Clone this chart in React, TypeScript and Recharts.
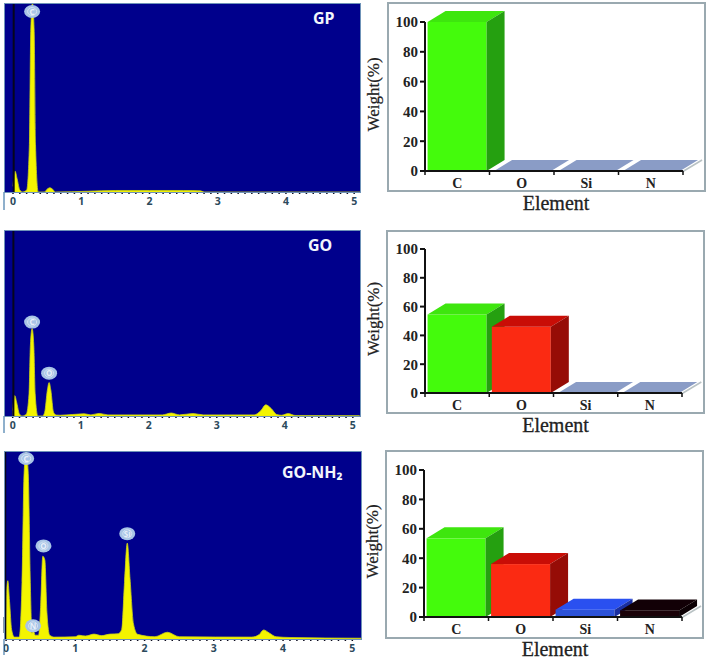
import { Area, AreaChart, Bar, BarChart, CartesianGrid, ReferenceDot, ReferenceLine, XAxis, YAxis } from 'recharts';

// EDS spectra, counts as % of plot height
const gpEnergy = [0, 0.01, 0.03, 0.06, 0.1, 0.14, 0.2, 0.24, 0.26, 0.285, 0.31, 0.33, 0.37, 0.46, 0.5, 0.54, 0.58, 0.62, 1.1, 1.5, 2, 2.5, 2.75, 2.8, 5.1];
const gpCounts = [3, 7, 11, 7, 1, 0, 1, 25, 85, 100, 85, 25, 0, 0, 1.5, 2.2, 1.5, 0, 0.4, 0.8, 0.8, 0.8, 0.6, 0, 0];

const goEnergy = [0, 0.01, 0.03, 0.06, 0.1, 0.14, 0.2, 0.24, 0.26, 0.285, 0.31, 0.33, 0.37, 0.44, 0.47, 0.51, 0.535, 0.56, 0.6, 0.64, 0.7, 1.05, 1.15, 1.27, 1.4, 2.2, 2.33, 2.45, 2.65, 2.8, 3.55, 3.65, 3.72, 3.8, 3.88, 3.95, 4.05, 4.15, 5.1];
const goCounts = [3, 7, 11, 7, 1, 0, 1, 12, 38, 47, 38, 12, 0, 0, 2, 14, 18, 14, 2, 0.5, 0.4, 1.2, 0.6, 1.4, 0.6, 0.6, 1.6, 0.6, 1.3, 0.6, 0.6, 3, 6, 4, 0.8, 0.4, 1.3, 0.3, 0.2];

const amineEnergy = [0, 0.012, 0.025, 0.05, 0.08, 0.12, 0.19, 0.23, 0.26, 0.29, 0.32, 0.35, 0.375, 0.39, 0.42, 0.47, 0.5, 0.53, 0.56, 0.59, 0.63, 0.7, 1, 1.05, 1.15, 1.27, 1.38, 1.5, 1.62, 1.67, 1.71, 1.75, 1.79, 1.84, 1.9, 2.15, 2.33, 2.5, 3.55, 3.65, 3.72, 3.8, 3.9, 4.1, 5.14];
const amineCounts = [10, 28, 31, 20, 5, 1, 1, 30, 88, 100, 88, 30, 3, 5, 2, 2, 18, 44, 42, 14, 2, 1, 1.2, 2, 1.6, 2.6, 1.8, 2.6, 2.8, 5, 30, 51, 32, 8, 2.5, 1.2, 3.6, 1.2, 1, 2.2, 4.8, 3.2, 1.2, 0.8, 0.4];

const energyTicks = Array.from({ length: 51 }, (_, i) => i / 10);

// Weight percentages
const elements = ['C', 'O', 'Si', 'N'];
const gpWeights = [100, 0, 0, 0];
const goWeights = [54.5, 46, 0, 0];
const amineWeights = [53.5, 36, 5, 4.5];
const weightTicks = [0, 20, 40, 60, 80, 100];

const FACE_COLORS: Record<string, string[]> = {
    C: ['#44fb0c', '#3ee60e', '#25a010'],
    O: ['#fb2a12', '#c90d06', '#960c06'],
    Si: ['#2c52d8', '#2a50f0', '#1a2fa0'],
    N: ['#1a0208', '#120006', '#0c0004'],
};
const SLAB = '#8a9cc6';
const DEPTH_X = 18;
const DEPTH_Y = 11;
const SERIF = '"Liberation Serif", serif';

function Box3D(props: any) {
    const { x, y, width, height, payload, index } = props;
    const [front, top, side] = FACE_COLORS[payload.name];
    const right = x + width;
    const bottom = y + height;
    const floorEdge = index === elements.length - 1 && (
        <line x1={right + 2} y1={bottom + 1} x2={right + DEPTH_X + 4} y2={bottom - DEPTH_Y} stroke="#b9c2c4" strokeWidth={1.5} />
    );
    if (payload.value === 0) {
        return (
            <g>
                {floorEdge}
                <polygon points={`${x + 2},${bottom} ${right},${bottom} ${right + DEPTH_X},${bottom - DEPTH_Y} ${x + 2 + DEPTH_X},${bottom - DEPTH_Y}`} fill={SLAB} />
            </g>
        );
    }
    return (
        <g>
            {floorEdge}
            <rect x={x} y={y} width={width} height={height} fill={front} />
            <polygon points={`${x},${y} ${right},${y} ${right + DEPTH_X},${y - DEPTH_Y} ${x + DEPTH_X},${y - DEPTH_Y}`} fill={top} />
            <polygon points={`${right},${y} ${right + DEPTH_X},${y - DEPTH_Y} ${right + DEPTH_X},${bottom - DEPTH_Y} ${right},${bottom}`} fill={side} />
        </g>
    );
}

function ElementTick(props: any) {
    const { x, y, payload, band } = props;
    return (
        <g>
            <line x1={x - band / 2} y1={y - 8} x2={x - band / 2} y2={y - 4} stroke="#111" strokeWidth={1.5} />
            {payload.index === elements.length - 1 && (
                <line x1={x + band / 2} y1={y - 8} x2={x + band / 2} y2={y - 4} stroke="#111" strokeWidth={1.5} />
            )}
            <text x={x} y={y + 9} textAnchor="middle" fontFamily={SERIF} fontWeight="bold" fontSize={14} fill="#222">
                {payload.value}
            </text>
        </g>
    );
}

interface WeightPanelProps {
    weights: number[];
    axisLeft: number;
    axisRight: number;
    y100: number;
    y0: number;
    frame: { left: number; top: number; width: number; height: number };
}

function WeightPanel({ weights, axisLeft, axisRight, y100, y0, frame }: WeightPanelProps) {
    const data = elements.map((name, i) => ({ name, value: weights[i] }));
    const chartLeft = axisLeft - 70;
    const chartTop = y100 - 20;
    const band = (axisRight - axisLeft) / elements.length;
    return (
        <>
            <div style={{ position: 'absolute', boxSizing: 'border-box', border: '2px solid #9aa9b0', ...frame }} />
            <div style={{ position: 'absolute', left: chartLeft, top: chartTop }}>
                <BarChart
                    width={axisRight - chartLeft + 26}
                    height={y0 + 46 - chartTop}
                    data={data}
                    barCategoryGap="4%"
                    margin={{ top: 20, right: 26, bottom: 0, left: 0 }}
                >
                    <XAxis
                        dataKey="name"
                        height={46}
                        stroke="#111"
                        strokeWidth={2}
                        tickLine={false}
                        interval={0}
                        tick={<ElementTick band={band} />}
                        label={{ value: 'Element', position: 'insideBottom', offset: 7, dx: 2, fontFamily: SERIF, fontSize: 20, stroke: '#222', strokeWidth: 0.3, fill: '#222' }}
                    />
                    <YAxis
                        width={70}
                        domain={[0, 100]}
                        ticks={weightTicks}
                        stroke="#111"
                        strokeWidth={2}
                        tickSize={5}
                        tick={{ fontFamily: SERIF, fontWeight: 'bold', fontSize: 15, fill: '#222' }}
                        label={{ value: 'Weight(%)', angle: -90, position: 'insideLeft', offset: 18, dy: 35, fontFamily: SERIF, fontSize: 17, stroke: '#222', strokeWidth: 0.2, fill: '#222' }}
                    />
                    <Bar dataKey="value" shape={<Box3D />} isAnimationActive={false} />
                </BarChart>
            </div>
        </>
    );
}

function Badge(props: any) {
    const { cx, cy, letter } = props;
    return (
        <g>
            <ellipse cx={cx} cy={cy} rx={8} ry={6.5} fill="#a8c4e6" />
            <ellipse cx={cx} cy={cy} rx={4.5} ry={4} fill="none" stroke="#d4e2f2" strokeWidth={1} />
            <text x={cx} y={cy + 3} textAnchor="middle" fontFamily="Noto Sans, sans-serif" fontWeight="bold" fontSize={8} fill="#e8f0fa">
                {letter}
            </text>
        </g>
    );
}

function EnergyTick(props: any) {
    const { x, y, payload } = props;
    if (!Number.isInteger(payload.value)) return <g />;
    return (
        <text x={x} y={y + 9} textAnchor="middle" fontFamily="Noto Sans, sans-serif" fontWeight="bold" fontSize={10.5} fill="#2c4a5c">
            {payload.value}
        </text>
    );
}

interface SpectrumPanelProps {
    energy: number[];
    counts: number[];
    left: number;
    top: number;
    width: number;
    height: number;
    domain: [number, number];
    markerAt: number;
    badges: { letter: string; x: number; y: number }[];
}

function SpectrumPanel({ energy, counts, left, top, width, height, domain, markerAt, badges }: SpectrumPanelProps) {
    const data = energy.map((e, i) => ({ e, c: counts[i] }));
    return (
        <>
            <div style={{ position: 'absolute', left, top }}>
                <AreaChart width={width} height={height + 22} data={data} margin={{ top: 0, right: 0, bottom: 0, left: 0 }}>
                    <CartesianGrid horizontal={false} vertical={false} fill="#00008c" />
                    <XAxis
                        type="number"
                        dataKey="e"
                        domain={domain}
                        allowDataOverflow
                        ticks={energyTicks}
                        interval={0}
                        height={22}
                        axisLine={false}
                        tickSize={2}
                        tickLine={{ stroke: '#0c0c20', strokeWidth: 1.5 }}
                        tick={<EnergyTick />}
                    />
                    <YAxis hide domain={[0, 100]} />
                    <Area
                        dataKey="c"
                        type="monotone"
                        stroke="#c8d018"
                        strokeWidth={0.8}
                        fill="#f4f400"
                        fillOpacity={1}
                        isAnimationActive={false}
                        dot={false}
                        activeDot={false}
                    />
                    <ReferenceLine x={markerAt} stroke="#06061c" strokeWidth={2} />
                    {badges.map((b) => (
                        <ReferenceDot key={b.letter} x={b.x} y={b.y} r={8} shape={<Badge letter={b.letter} />} />
                    ))}
                </AreaChart>
            </div>
            <div style={{ position: 'absolute', boxSizing: 'border-box', left, top, width, height: height + 1, border: '1px solid #6f93b8' }} />
        </>
    );
}

const titleStyle = {
    position: 'absolute',
    color: '#f2f6fb',
    fontFamily: '"Noto Sans", sans-serif',
    fontWeight: 'bold',
    fontSize: 16,
    lineHeight: '14px',
} as const;

const leftEdge = (top: number, height: number) => (
    <div style={{ position: 'absolute', left: 3, top, width: 2, height, background: '#8fb0cc' }} />
);

export default function App() {
    return (
        <div style={{ position: 'absolute', left: 0, top: 0, width: 709, height: 663, background: '#fff', overflow: 'hidden' }}>
            {leftEdge(192, 18)}
            {leftEdge(416, 17)}
            {leftEdge(639, 16)}
            <div style={{ position: 'absolute', left: 3, top: 617, width: 4, height: 16, background: '#8c9aa6' }} />

            <SpectrumPanel
                energy={gpEnergy}
                counts={gpCounts}
                left={4}
                top={3}
                width={357}
                height={189}
                domain={[-0.132, 5.1]}
                markerAt={0.01}
                badges={[{ letter: 'C', x: 0.28, y: 95.5 }]}
            />
            <SpectrumPanel
                energy={goEnergy}
                counts={goCounts}
                left={4}
                top={230}
                width={357}
                height={186}
                domain={[-0.128, 5.12]}
                markerAt={0.01}
                badges={[
                    { letter: 'C', x: 0.285, y: 50.5 },
                    { letter: 'O', x: 0.535, y: 23 },
                ]}
            />
            <SpectrumPanel
                energy={amineEnergy}
                counts={amineCounts}
                left={4}
                top={451}
                width={358}
                height={188}
                domain={[-0.03, 5.14]}
                markerAt={-0.012}
                badges={[
                    { letter: 'C', x: 0.29, y: 96 },
                    { letter: 'O', x: 0.54, y: 49.5 },
                    { letter: 'Si', x: 1.75, y: 56 },
                    { letter: 'N', x: 0.39, y: 7 },
                ]}
            />

            <div style={{ ...titleStyle, left: 313, top: 11 }}>GP</div>
            <div style={{ ...titleStyle, left: 308, top: 238 }}>GO</div>
            <div style={{ ...titleStyle, left: 282, top: 465 }}>GO-NH₂</div>

            <WeightPanel weights={gpWeights} axisLeft={425} axisRight={683} y100={22} y0={171} frame={{ left: 387, top: 2, width: 319, height: 190 }} />
            <WeightPanel weights={goWeights} axisLeft={425} axisRight={682} y100={249} y0={393} frame={{ left: 386, top: 230, width: 319, height: 184 }} />
            <WeightPanel weights={amineWeights} axisLeft={424} axisRight={682} y100={470} y0={617} frame={{ left: 385, top: 450, width: 319, height: 189 }} />
        </div>
    );
}
